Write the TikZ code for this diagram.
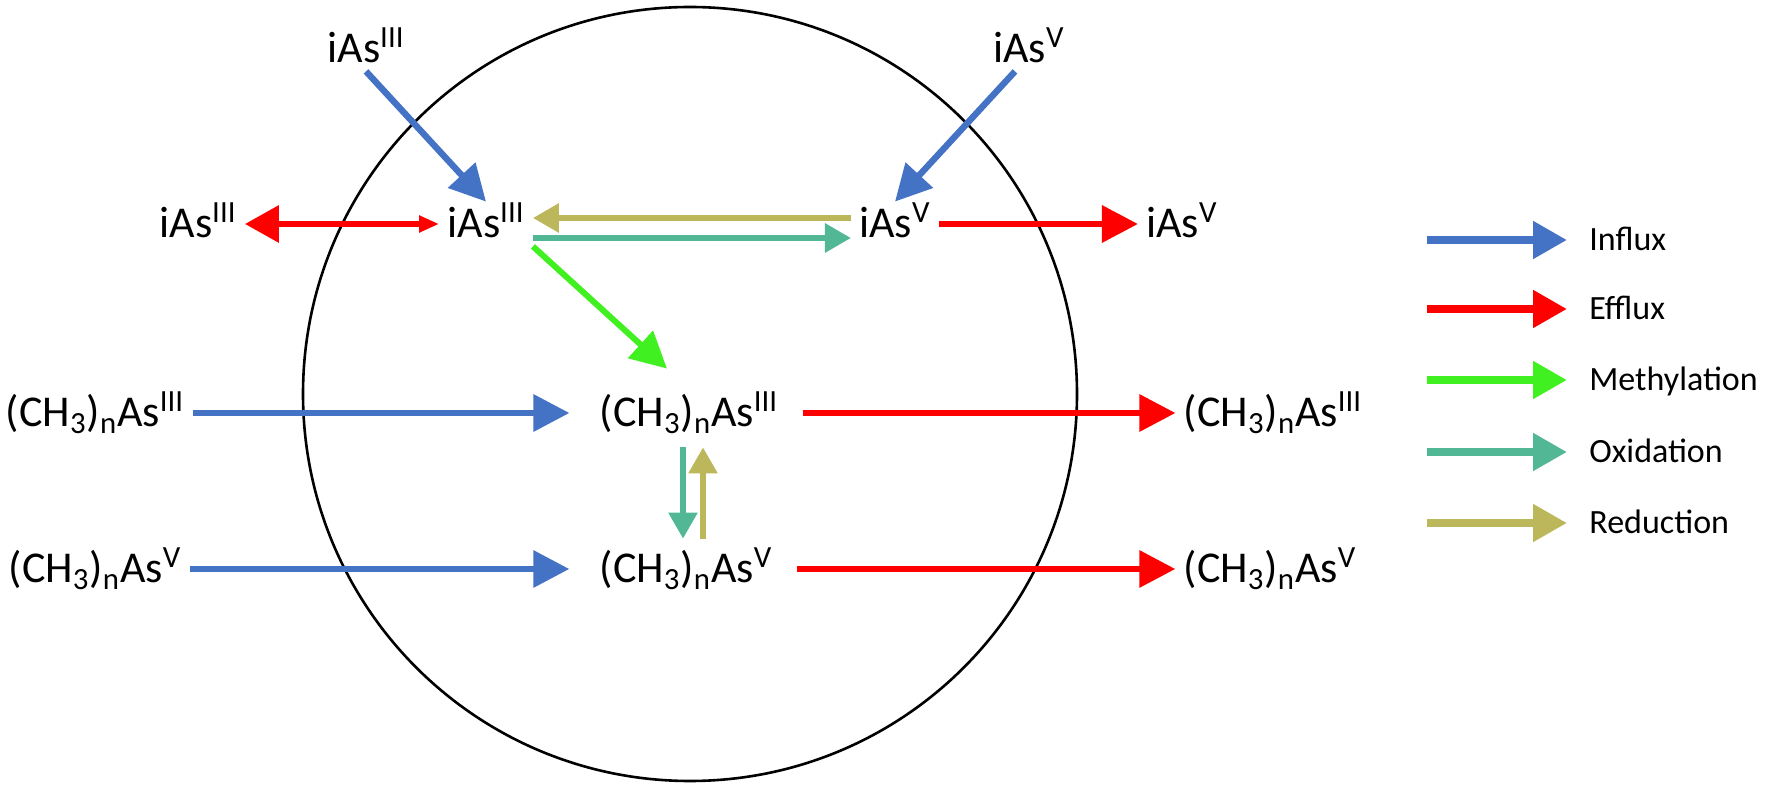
\documentclass[tikz,border=0pt]{standalone}
\usepackage{fontspec}
\setmainfont{Carlito}
\usetikzlibrary{arrows.meta,positioning}
\definecolor{influxC}{HTML}{4472C4}
\definecolor{effluxC}{HTML}{FF0000}
\definecolor{methylC}{HTML}{40F020}
\definecolor{oxidC}{HTML}{52B795}
\definecolor{reducC}{HTML}{BDB75B}
\newcommand{\iAs}[1]{iAs\textsuperscript{#1}}
\newcommand{\meAs}[1]{(CH\textsubscript{3})\textsubscript{n}As\textsuperscript{#1}}
\tikzset{
  species/.style={inner sep=4pt, anchor=base, text height=14pt, text depth=0pt,
                  font=\fontsize{22}{26}\selectfont},
  legtext/.style={inner sep=4pt, anchor=west, text height=11pt, text depth=0pt,
                  font=\fontsize{17}{20}\selectfont},
  flow/.style={-{Triangle[length=18pt,width=18pt]}, line width=3.2pt, draw=#1},
  redox/.style={-{Triangle[length=13pt,width=14pt]}, line width=3pt, draw=#1},
  legarr/.style={-{Triangle[length=17pt,width=18pt]}, line width=4pt, draw=#1, shorten >=7pt},
}

\begin{document}
\begin{tikzpicture}[x=0.5pt, y=-0.5pt]
    \useasboundingbox (0,0) rectangle (1768,785);
    % the cell
    \draw[line width=1.3pt] (690,394) circle[radius=387];

    \node[species] (inIII) at (366,63) {\iAs{III}};
    \node[species] (inV) at (1029,63) {\iAs{V}};
    \node[species] (outIII) at (198,238) {\iAs{III}};
    \node[species] (cIII) at (486,238) {\iAs{III}};
    \node[species] (cV) at (895,238) {\iAs{V}};
    \node[species] (outV) at (1182,238) {\iAs{V}};
    \node[species] (inMeIII) at (95,427) {\meAs{III}};
    \node[species] (cMeIII) at (689,427) {\meAs{III}};
    \node[species] (outMeIII) at (1273,427) {\meAs{III}};
    \node[species] (inMeV) at (95,583) {\meAs{V}};
    \node[species] (cMeV) at (686,583) {\meAs{V}};
    \node[species] (outMeV) at (1270,583) {\meAs{V}};

    % inorganic arsenic
    \draw[flow=influxC] (inIII.south) -- (cIII.north);
    \draw[flow=influxC] ([xshift=-7pt]inV.south) -- (cV.north);
    \draw[effluxC, line width=3.2pt, {Triangle[length=17pt,width=18pt]}-{Triangle[length=10pt,width=8pt]}]
      (outIII.east) -- (cIII.west);
    \draw[flow=effluxC] (cV.east) -- (outV.west);
    \draw[redox=reducC] ([yshift=3pt]cV.west) -- ([yshift=3pt]cIII.east);
    \draw[redox=oxidC] ([yshift=-7pt]cIII.east) -- ([yshift=-7pt]cV.west);
    \draw[flow=methylC, line width=3pt] (cIII.south east) -- ([xshift=-11pt,yshift=11pt]cMeIII.north);

    % methylated arsenic
    \draw[flow=influxC, shorten >=11pt] (inMeIII.east) -- (cMeIII.west);
    \draw[flow=effluxC, shorten <=8pt] (cMeIII.east) -- (outMeIII.west);
    \draw[flow=influxC, shorten >=11pt] (inMeV.east) -- (cMeV.west);
    \draw[flow=effluxC, shorten <=8pt] (cMeV.east) -- (outMeV.west);
    \draw[redox=oxidC, line width=2.8pt, shorten <=6pt, shorten >=4pt]
      ([xshift=-3pt]cMeIII.south) -- ([xshift=-3pt]cMeIII.south |- cMeV.north);
    \draw[redox=reducC, line width=2.8pt, shorten <=4pt, shorten >=6pt]
      ([xshift=7pt]cMeIII.south |- cMeV.north) -- ([xshift=7pt]cMeIII.south);

    % legend
    \node[legtext] (lgInflux) at (1581,240) {Influx};
    \node[legtext] (lgEfflux) at (1581,309) {Efflux};
    \node[legtext] (lgMethyl) at (1581,380) {Methylation};
    \node[legtext] (lgOxid) at (1581,452) {Oxidation};
    \node[legtext] (lgReduc) at (1581,523) {Reduction};
    \coordinate (sInflux) at (1427,240);
    \coordinate (sEfflux) at (1427,309);
    \coordinate (sMethyl) at (1427,380);
    \coordinate (sOxid) at (1427,452);
    \coordinate (sReduc) at (1427,523);
    \draw[legarr=influxC] (sInflux) -- (lgInflux.west);
    \draw[legarr=effluxC] (sEfflux) -- (lgEfflux.west);
    \draw[legarr=methylC] (sMethyl) -- (lgMethyl.west);
    \draw[legarr=oxidC] (sOxid) -- (lgOxid.west);
    \draw[legarr=reducC] (sReduc) -- (lgReduc.west);
\end{tikzpicture}
\end{document}
